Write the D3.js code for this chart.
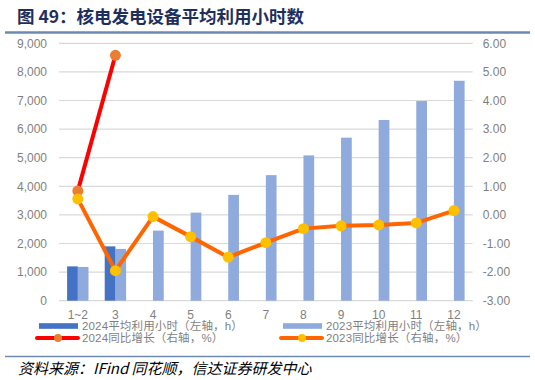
<!DOCTYPE html>
<html><head><meta charset="utf-8">
<script src="https://cdn.jsdelivr.net/npm/d3@7"></script>
<style>
body{margin:0;background:#fff;}
svg{display:block;font-family:"Liberation Sans","Noto Sans CJK SC",sans-serif;}
</style></head>
<body><svg id="c" width="535" height="380"></svg>
<script>
const categories = ["1~2","3","4","5","6","7","8","9","10","11","12"];
const hours2024 = [1200, 1900, null, null, null, null, null, null, null, null, null];
const hours2023 = [1180, 1810, 2450, 3080, 3700, 4390, 5080, 5700, 6320, 6980, 7690];
const yoy2024 = [0.84, 5.58, null, null, null, null, null, null, null, null, null];
const yoy2023 = [0.56, -1.95, -0.06, -0.76, -1.48, -0.97, -0.48, -0.38, -0.35, -0.28, 0.15];
const leftTicks = [0,1000,2000,3000,4000,5000,6000,7000,8000,9000];
const rightTicks = [-3,-2,-1,0,1,2,3,4,5,6];
const seriesNames = ["2024平均利用小时（左轴，h）","2023平均利用小时（左轴，h）","2024同比增长（右轴，%）","2023同比增长（右轴，%）"];
const titleText = "图 49：核电发电设备平均利用小时数";
const sourceText = "资料来源：IFind 同花顺，信达证券研发中心";

const svg = d3.select("#c");
const L = 59, R = 472.7, T = 43.3, B = 300.7;
const x = d3.scaleBand().domain(categories).range([L, R]).paddingInner(0).paddingOuter(0);
const yL = d3.scaleLinear().domain([0, 9000]).range([B, T]);
const yR = d3.scaleLinear().domain([-3, 6]).range([B, T]);
const bw = 10.7;

// title
svg.append("text").attr("x", 17).attr("y", 23).attr("font-size", 17.5).attr("font-weight", "bold")
  .attr("fill", "#1f2f5c").attr("font-family", "'Noto Sans CJK SC',sans-serif").text(titleText);
svg.append("line").attr("x1", 5).attr("x2", 530).attr("y1", 32.5).attr("y2", 32.5)
  .attr("stroke", "#6c8ab0").attr("stroke-width", 2.5);

// gridlines
svg.append("g").selectAll("line").data(leftTicks).join("line")
  .attr("x1", L).attr("x2", R).attr("y1", d => yL(d)).attr("y2", d => yL(d))
  .attr("stroke", "#d9d9d9").attr("stroke-width", 1.2);

// left axis
const axL = d3.axisLeft(yL).tickValues(leftTicks).tickFormat(d3.format(",")).tickSize(0).tickPadding(0);
const gL = svg.append("g").attr("transform", `translate(${L-12},0)`).call(axL);
gL.select(".domain").remove();
gL.selectAll("text").attr("font-size", 12).attr("fill", "#7f7f7f").attr("font-family", "'Liberation Sans',sans-serif");

// right axis
const axR = d3.axisRight(yR).tickValues(rightTicks).tickFormat(d3.format(".2f")).tickSize(0).tickPadding(0);
const gR = svg.append("g").attr("transform", `translate(${R+10},0)`).call(axR);
gR.select(".domain").remove();
gR.selectAll("text").attr("font-size", 12).attr("fill", "#7f7f7f").attr("font-family", "'Liberation Sans',sans-serif")
  .text(d => (d < 0 ? "-" : "") + Math.abs(d).toFixed(2));

// x axis
const axX = d3.axisBottom(x).tickSize(0).tickPadding(0);
const gX = svg.append("g").attr("transform", `translate(0,${B+9.5})`).call(axX);
gX.select(".domain").remove();
gX.selectAll("text").attr("font-size", 12).attr("fill", "#7f7f7f").attr("font-family", "'Liberation Sans',sans-serif");

// bars
const cx = c => x(c) + x.bandwidth() / 2;
svg.append("g").selectAll("rect").data(categories.map((c, i) => ({c, v: hours2023[i]})).filter(d => d.v != null)).join("rect")
  .attr("x", d => cx(d.c)).attr("width", bw).attr("y", d => yL(d.v)).attr("height", d => B - yL(d.v))
  .attr("fill", "#8faadc");
svg.append("g").selectAll("rect").data(categories.map((c, i) => ({c, v: hours2024[i]})).filter(d => d.v != null)).join("rect")
  .attr("x", d => cx(d.c) - bw).attr("width", bw).attr("y", d => yL(d.v)).attr("height", d => B - yL(d.v))
  .attr("fill", "#4472c4");

// lines
function drawLine(vals, stroke, fill) {
  const pts = categories.map((c, i) => ({c, v: vals[i]})).filter(d => d.v != null);
  const line = d3.line().x(d => cx(d.c)).y(d => yR(d.v));
  svg.append("path").datum(pts).attr("d", line).attr("fill", "none").attr("stroke", stroke)
    .attr("stroke-width", 4).attr("stroke-linejoin", "round").attr("stroke-linecap", "round");
  svg.append("g").selectAll("circle").data(pts).join("circle")
    .attr("cx", d => cx(d.c)).attr("cy", d => yR(d.v)).attr("r", 5.5).attr("fill", fill);
}
drawLine(yoy2024, "#ff0000", "#ed7d31");
drawLine(yoy2023, "#ff6600", "#ffc000");

// legend
const lg = svg.append("g").attr("font-size", 11.5).attr("fill", "#7f7f7f").attr("font-family", "'Liberation Sans','Noto Sans CJK SC',sans-serif");
const legendItems = [
  {name: seriesNames[0], type: "bar", color: "#4472c4", x: 39, y: 326},
  {name: seriesNames[1], type: "bar", color: "#8faadc", x: 283, y: 326},
  {name: seriesNames[2], type: "line", color: "#ff0000", mk: "#ed7d31", x: 37, y: 338},
  {name: seriesNames[3], type: "line", color: "#ff6600", mk: "#ffc000", x: 281, y: 338}
];
legendItems.forEach(d => {
  if (d.type === "bar") {
    lg.append("rect").attr("x", d.x).attr("y", d.y - 2.8).attr("width", 39).attr("height", 5.6).attr("fill", d.color);
  } else {
    lg.append("line").attr("x1", d.x).attr("x2", d.x + 41).attr("y1", d.y).attr("y2", d.y)
      .attr("stroke", d.color).attr("stroke-width", 4).attr("stroke-linecap", "round");
    lg.append("circle").attr("cx", d.x + 21).attr("cy", d.y).attr("r", 4).attr("fill", d.mk);
  }
  lg.append("text").attr("x", 82 + (d.x > 200 ? 244 : 0)).attr("y", d.y + 4.2).attr("fill", "#7f7f7f")
    .attr("letter-spacing", 0.15).text(d.name);
});

// source
svg.append("line").attr("x1", 5).attr("x2", 530).attr("y1", 356.5).attr("y2", 356.5)
  .attr("stroke", "#6c8ab0").attr("stroke-width", 1.5);
svg.append("text").attr("x", 18).attr("y", 373.5).attr("font-size", 15).attr("font-style", "italic")
  .attr("fill", "#000").attr("font-family", "'Noto Sans CJK SC',sans-serif").text(sourceText);
</script></body></html>
